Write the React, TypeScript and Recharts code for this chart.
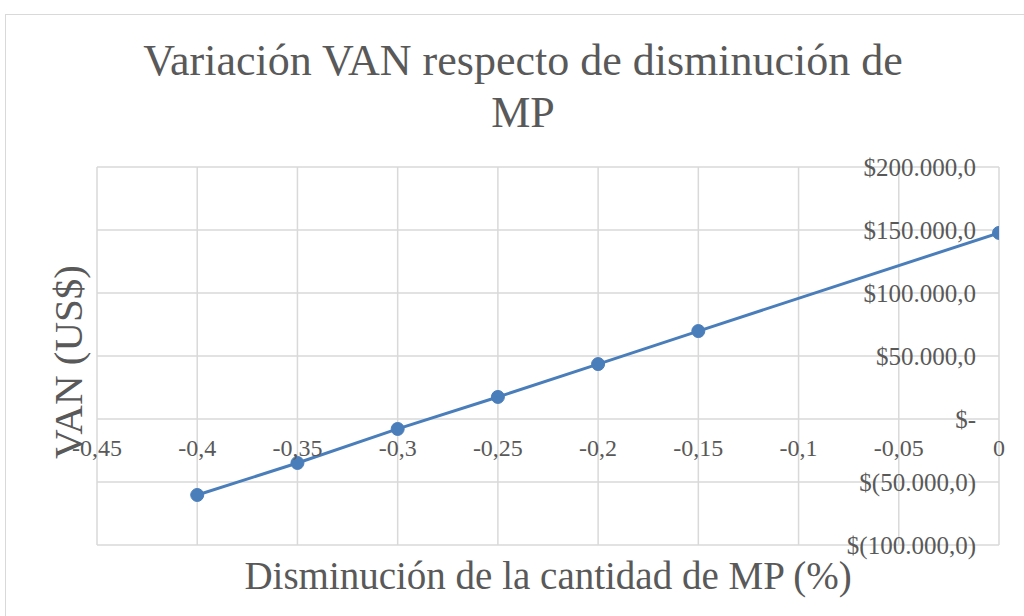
import React from "react";
import { LineChart, Line, XAxis, YAxis, CartesianGrid } from "recharts";

const xValues = [-0.4, -0.35, -0.3, -0.25, -0.2, -0.15, 0];
const vanValues = [-60300, -34900, -7900, 17500, 43600, 69800, 147700];
const xTicks = [-0.45, -0.4, -0.35, -0.3, -0.25, -0.2, -0.15, -0.1, -0.05, 0];
const yTicks = [-100000, -50000, 0, 50000, 100000, 150000, 200000];

const data = xValues.map((x, i) => ({ x, van: vanValues[i] }));

const W = 1024;
const H = 616;
const M = { top: 167, right: 24, bottom: 70, left: 97 };
const Y_MIN = -100000;
const Y_MAX = 200000;
const plotH = H - M.top - M.bottom - 1;
const zeroFromBottom = (plotH * (0 - Y_MIN)) / (Y_MAX - Y_MIN);

const TEXT = "#595959";
const FONT = "'Liberation Serif', 'DejaVu Serif', serif";

const fmtX = (v: number) => {
  if (v === 0) return "0";
  return String(Math.round(v * 100) / 100).replace(".", ",");
};

const fmtY = (v: number) => {
  if (v === 0) return "$-";
  const abs = Math.abs(v).toLocaleString("de-DE") + ",0";
  return v < 0 ? `$(${abs})` : `$${abs}`;
};

const renderXTick = (props: any) => {
  const { x, y, payload, index } = props;
  return (
    <text
      key={`xt-${index}`}
      x={x}
      y={y - zeroFromBottom + 21}
      textAnchor="middle"
      dominantBaseline="central"
      fill={TEXT}
      fontSize={24}
      fontFamily={FONT}
    >
      {fmtX(payload.value)}
    </text>
  );
};

const renderYTick = (props: any) => {
  const { x, y, payload, index } = props;
  return (
    <text
      key={`yt-${index}`}
      x={x - 31}
      y={y}
      textAnchor="end"
      dominantBaseline="central"
      fill={TEXT}
      fontSize={25}
      fontFamily={FONT}
    >
      {fmtY(payload.value)}
    </text>
  );
};

export default function App() {
  return (
    <div style={{ position: "absolute", left: 0, top: 0, width: W, height: H, background: "#fff", overflow: "hidden" }}>
      <div
        style={{
          position: "absolute",
          left: 5,
          top: 14,
          width: W + 20,
          height: H + 20,
          border: "1px solid #d9d9d9",
          boxSizing: "border-box",
        }}
      />
      <div
        style={{
          position: "absolute",
          left: 0,
          top: 35,
          width: 1046,
          textAlign: "center",
          fontFamily: FONT,
          fontSize: 44,
          lineHeight: "52px",
          color: TEXT,
        }}
      >
        Variación VAN respecto de disminución de
        <br />
        MP
      </div>
      <div
        style={{
          position: "absolute",
          left: 0,
          top: 552,
          width: 1096,
          textAlign: "center",
          fontFamily: FONT,
          fontSize: 39,
          lineHeight: "48px",
          color: TEXT,
        }}
      >
        Disminución de la cantidad de MP (%)
      </div>
      <div
        style={{
          position: "absolute",
          left: 68,
          top: 362,
          transform: "translate(-50%, -50%) rotate(-90deg)",
          whiteSpace: "nowrap",
          fontFamily: FONT,
          fontSize: 41,
          lineHeight: "46px",
          color: TEXT,
        }}
      >
        VAN (US$)
      </div>
      <div style={{ position: "absolute", left: 0, top: 0 }}>
        <LineChart width={W} height={H} data={data} margin={M}>
          <CartesianGrid stroke="#d9d9d9" strokeWidth={1.5} horizontalValues={yTicks} verticalValues={xTicks} />
          <XAxis
            dataKey="x"
            type="number"
            domain={[-0.45, 0]}
            ticks={xTicks}
            height={1}
            axisLine={false}
            tickLine={false}
            tick={renderXTick}
            interval={0}
            allowDataOverflow
          />
          <YAxis
            orientation="right"
            type="number"
            domain={[Y_MIN, Y_MAX]}
            ticks={yTicks}
            width={1}
            axisLine={false}
            tickLine={false}
            tick={renderYTick}
            interval={0}
            allowDataOverflow
          />
          <Line
            dataKey="van"
            stroke="#4a7ebb"
            strokeWidth={3}
            dot={{ r: 6.5, fill: "#4a7ebb", stroke: "#4a7ebb", strokeWidth: 1 }}
            isAnimationActive={false}
          />
        </LineChart>
      </div>
    </div>
  );
}
